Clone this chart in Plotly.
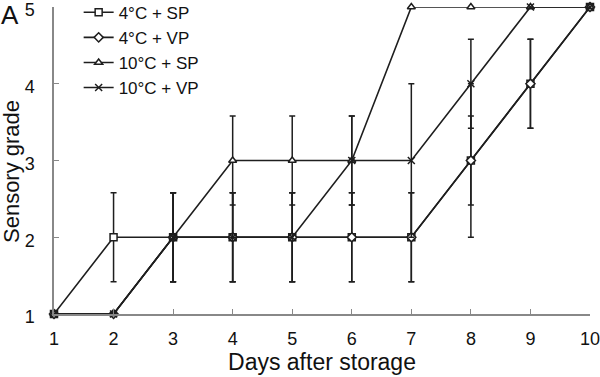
import plotly.graph_objects as go

days = [1, 2, 3, 4, 5, 6, 7, 8, 9, 10]
names = ["4°C + SP", "4°C + VP", "10°C + SP", "10°C + VP"]
sp4 = [1, 2, 2, 2, 2, 2, 2, 3, 4, 5]
sp4_err = [0, 0.58, 0.58, 0.58, 0.58, 0.58, 0.58, 1, 0.58, 0]
vp4 = [1, 1, 2, 2, 2, 2, 2, 3, 4, 5]
vp4_err = [0, 0, 0.58, 0.58, 0.58, 0.58, 0.58, 0.58, 0.58, 0]
sp10 = [1, 1, 2, 3, 3, 3, 5, 5, 5, 5]
sp10_err = [0, 0, 0.58, 0.58, 0.58, 0.58, 0, 0, 0, 0]
vp10 = [1, 1, 2, 2, 2, 3, 3, 4, 5, 5]
vp10_err = [0, 0, 0.58, 0.58, 0.58, 0.58, 1, 0.58, 0, 0]

series = [sp4, vp4, sp10, vp10]
errs = [sp4_err, vp4_err, sp10_err, vp10_err]
symbols = ["square", "diamond", "triangle-up", "x-thin"]

dark = "#1e1e1e"
fig = go.Figure()
for name, y, e, sym in zip(names, series, errs, symbols):
    marker = dict(symbol=sym, size=7, color="white", line=dict(color=dark, width=1.5))
    if sym == "x-thin":
        marker = dict(symbol=sym, size=7, color=dark, line=dict(color=dark, width=1.5))
    fig.add_trace(go.Scatter(
        x=days, y=y, name=name, mode="lines+markers",
        line=dict(color=dark, width=1.6),
        marker=marker,
        error_y=dict(type="data", array=e, visible=True, color=dark, thickness=1.5, width=3),
        cliponaxis=False,
    ))

fig.update_layout(
    width=600, height=377,
    margin=dict(l=54, r=10, t=7, b=63, autoexpand=False),
    plot_bgcolor="white", paper_bgcolor="white",
    font=dict(family="Liberation Sans, Arial, sans-serif", size=18, color="#111"),
    showlegend=True,
    legend=dict(x=0.046, y=1.04, xanchor="left", yanchor="top",
                font=dict(size=17), bgcolor="rgba(0,0,0,0)", tracegroupgap=0),
    xaxis=dict(range=[1, 10], tickvals=days, ticks="inside", ticklen=5,
               tickcolor="#888", showline=True, linecolor="#888", linewidth=1.5,
               showgrid=False, zeroline=False, automargin=False, ticklabelstandoff=8,
               ticklabeloverflow="allow",
               title=dict(text="Days after storage", font=dict(size=23), standoff=6)),
    yaxis=dict(range=[1, 5], tickvals=[1, 2, 3, 4, 5], ticks="inside", ticklen=5,
               tickcolor="#888", showline=True, linecolor="#888", linewidth=1.5,
               showgrid=False, zeroline=False, automargin=False, ticklabelstandoff=14,
               ticklabeloverflow="allow", ticklabelshift=3),
    annotations=[
        dict(text="A", x=0, y=1, xref="paper", yref="paper", xshift=-55, yshift=9,
             showarrow=False, xanchor="left", yanchor="top",
             font=dict(size=26, color="#111")),
        dict(text="Sensory grade", x=0, y=0.4625, xref="paper", yref="paper",
             xshift=-43, showarrow=False, textangle=-90, xanchor="center", yanchor="middle",
             font=dict(size=22, color="#111")),
    ],
)

fig.write_html("out.html", config={"displayModeBar": False},
               post_script="document.body.style.margin='0';")
